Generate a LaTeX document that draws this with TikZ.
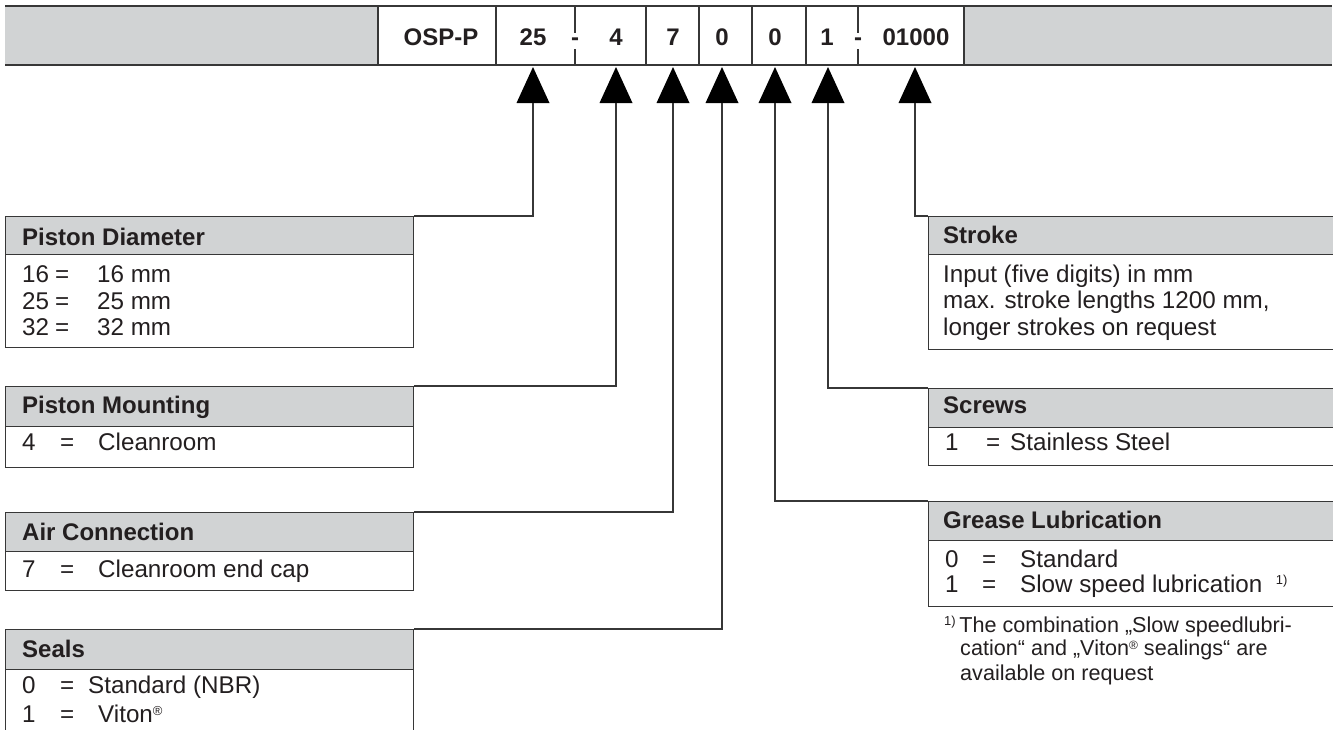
\documentclass[tikz,border=0pt]{standalone}
\usepackage{fontspec}
\setmainfont{Liberation Sans}
\definecolor{fillg}{RGB}{209,211,212}
\definecolor{linec}{RGB}{55,55,55}
\definecolor{txt}{RGB}{35,31,32}
\tikzset{
  ln/.style={draw=linec, line width=1.1pt},
  hdrbox/.style={ln, fill=fillg, rectangle, inner sep=0pt, anchor=north west},
  bodybox/.style={ln, fill=white, rectangle, inner sep=0pt, anchor=north west},
  bodytxt/.style={anchor=base west, inner sep=0pt, text=txt, font=\fontsize{24.2}{28}\selectfont},
  hdtxt/.style={anchor=base west, inner sep=0pt, text=txt, font=\bfseries\fontsize{24}{28}\selectfont},
  codetxt/.style={anchor=base, inner sep=0pt, text=txt, font=\bfseries\fontsize{24}{28}\selectfont},
  fntxt/.style={anchor=base west, inner sep=0pt, text=txt, font=\fontsize{21.6}{25}\selectfont},
  conn/.style={ln},
}
\newcommand{\pointer}[1]{\fill[black] (#1) ++(-16.5,0) -- ++(16.5,-36) -- ++(16.5,36) -- cycle;}
\begin{document}
\begin{tikzpicture}[x=1pt,y=-1pt]
\useasboundingbox (0,0) rectangle (1333,729);
% ---- top code bar
\fill[fillg] (5,6) rectangle (378,65);
\fill[fillg] (964,6) rectangle (1332,65);
\draw[ln] (5,6) -- (1332,6);
\draw[ln] (5,65) -- (1332,65);
\foreach \x in {378,496,646,699,752,806,964} \draw[ln] (\x,6) -- (\x,65);
\foreach \x in {575,858} {\draw[ln] (\x,6) -- (\x,33); \draw[ln] (\x,49) -- (\x,65);}
\node[codetxt] (cosp) at (441,45) {OSP-P};
\node[codetxt] (c25) at (533,45) {25};
\node[codetxt] (d1) at (575,45) {-};
\node[codetxt] (c4) at (616,45) {4};
\node[codetxt] (c7) at (673,45) {7};
\node[codetxt] (c0a) at (722,45) {0};
\node[codetxt] (c0b) at (775,45) {0};
\node[codetxt] (c1) at (827,45) {1};
\node[codetxt] (d2) at (858,45) {-};
\node[codetxt] (c01000) at (916,45) {01000};
% ---- pointers
\coordinate (a1) at (533,103);
\coordinate (a2) at (616,103);
\coordinate (a3) at (673,103);
\coordinate (a4) at (722,103);
\coordinate (a5) at (775,103);
\coordinate (a6) at (828,103);
\coordinate (a7) at (915,103);
\foreach \a in {a1,a2,a3,a4,a5,a6,a7} {\pointer{\a}}
% ---- left boxes
\node[bodybox, minimum width=408pt, minimum height=93pt] (pdb) at (5,254) {};
\node[hdrbox, minimum width=408pt, minimum height=38pt] (pdh) at (5,216) {};
\node[bodybox, minimum width=408pt, minimum height=41pt] (pmb) at (5,426) {};
\node[hdrbox, minimum width=408pt, minimum height=40pt] (pmh) at (5,386) {};
\node[bodybox, minimum width=408pt, minimum height=39pt] (acb) at (5,551) {};
\node[hdrbox, minimum width=408pt, minimum height=39pt] (ach) at (5,512) {};
\node[bodybox, minimum width=408pt, minimum height=70pt] (seb) at (5,669) {};
\node[hdrbox, minimum width=408pt, minimum height=40pt] (seh) at (5,629) {};
% ---- right boxes
\node[bodybox, minimum width=406pt, minimum height=95pt] (stb) at (928,254) {};
\node[hdrbox, minimum width=406pt, minimum height=38pt] (sth) at (928,216) {};
\node[bodybox, minimum width=406pt, minimum height=38pt] (scb) at (928,427) {};
\node[hdrbox, minimum width=406pt, minimum height=39pt] (sch) at (928,388) {};
\node[bodybox, minimum width=406pt, minimum height=66pt] (glb) at (928,540) {};
\node[hdrbox, minimum width=406pt, minimum height=39pt] (glh) at (928,501) {};
% ---- connectors
\draw[conn] (a1) |- (pdh.north east);
\draw[conn] (a2) |- (pmh.north east);
\draw[conn] (a3) |- (ach.north east);
\draw[conn] (a4) |- (seh.north east);
\draw[conn] (a5) |- (glh.north west);
\draw[conn] (a6) |- (sch.north west);
\draw[conn] (a7) |- (sth.north west);
% ---- left texts
\node[hdtxt] (tpd) at (22,245) {Piston Diameter};
\node[bodytxt] (pd1a) at (22,282) {16};
\node[bodytxt] (pd1b) at (55,282) {=};
\node[bodytxt] (pd1c) at (97,282) {16 mm};
\node[bodytxt] (pd2a) at (22,309) {25};
\node[bodytxt] (pd2b) at (55,309) {=};
\node[bodytxt] (pd2c) at (97,309) {25 mm};
\node[bodytxt] (pd3a) at (22,335) {32};
\node[bodytxt] (pd3b) at (55,335) {=};
\node[bodytxt] (pd3c) at (97,335) {32 mm};
\node[hdtxt] (tpm) at (22,413) {Piston Mounting};
\node[bodytxt] (pm1a) at (22,450) {4};
\node[bodytxt] (pm1b) at (60,450) {=};
\node[bodytxt] (pm1c) at (98,450) {Cleanroom};
\node[hdtxt] (tac) at (22,540) {Air Connection};
\node[bodytxt] (ac1a) at (22,577) {7};
\node[bodytxt] (ac1b) at (60,577) {=};
\node[bodytxt] (ac1c) at (98,577) {Cleanroom end cap};
\node[hdtxt] (tse) at (22,657) {Seals};
\node[bodytxt] (se1a) at (22,693) {0};
\node[bodytxt] (se1b) at (60,693) {=};
\node[bodytxt] (se1c) at (88,693) {Standard (NBR)};
\node[bodytxt] (se2a) at (22,722) {1};
\node[bodytxt] (se2b) at (60,722) {=};
\node[bodytxt] (se2c) at (98,722) {Viton{\fontsize{13}{13}\selectfont\raisebox{7pt}{®}}};
% ---- right texts
\node[hdtxt] (tst) at (943,243) {Stroke};
\node[bodytxt] (st1) at (943,282) {Input (five digits) in mm};
\node[bodytxt] (st2) at (943,308) {max. stroke lengths 1200 mm,};
\node[bodytxt] (st3) at (943,335) {longer strokes on request};
\node[hdtxt] (tsc) at (943,413) {Screws};
\node[bodytxt] (sc1a) at (945,450) {1};
\node[bodytxt] (sc1b) at (986,450) {=};
\node[bodytxt] (sc1c) at (1010,450) {Stainless Steel};
\node[hdtxt] (tgl) at (943,528) {Grease Lubrication};
\node[bodytxt] (gl1a) at (945,567) {0};
\node[bodytxt] (gl1b) at (982,567) {=};
\node[bodytxt] (gl1c) at (1020,567) {Standard};
\node[bodytxt] (gl2a) at (945,592) {1};
\node[bodytxt] (gl2b) at (982,592) {=};
\node[bodytxt] (gl2c) at (1020,592) {Slow speed lubrication \ {\fontsize{13}{13}\selectfont\raisebox{8pt}{1)}}};
% ---- footnote
\node[fntxt] (fn1) at (944,632) {{\fontsize{13}{13}\selectfont\raisebox{7pt}{1)}}\,The combination „Slow speedlubri-};
\node[fntxt] (fn2) at (960,655) {cation“ and „Viton{\fontsize{12}{12}\selectfont\raisebox{6pt}{®}} sealings“ are};
\node[fntxt] (fn3) at (960,680) {available on request};
\end{tikzpicture}
\end{document}
